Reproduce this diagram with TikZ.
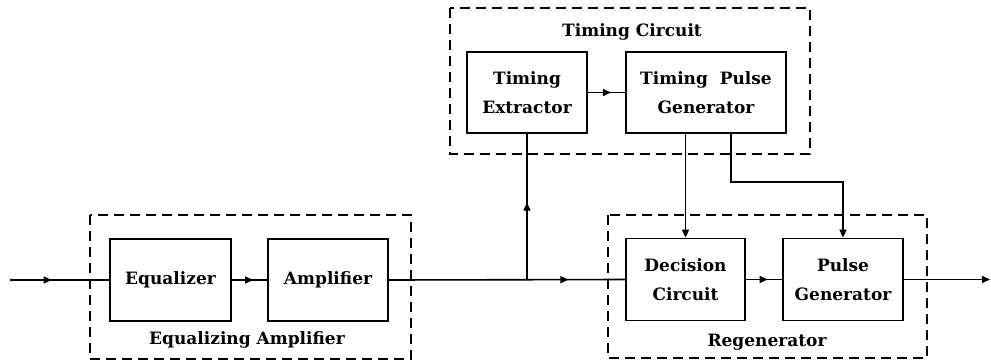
\documentclass[tikz,border=0pt]{standalone}
\usepackage{fontspec}
\setmainfont{DejaVu Serif}
\usetikzlibrary{arrows.meta,decorations.markings}
\begin{document}
\begin{tikzpicture}[x=1pt,y=-1pt,
  every node/.style={font=\fontsize{17}{29}\selectfont\bfseries},
  blk/.style={draw,line width=1.8pt,rectangle,minimum height=82pt,align=center,inner sep=0pt},
  grp/.style={draw,line width=1.6pt,dash pattern=on 10pt off 6pt},
  conn/.style={line width=1.6pt},
  tip/.style={-{Triangle[length=8pt,width=7pt]}},
  midarr/.style={postaction={decorate},decoration={markings,
     mark=at position #1 with {\arrow{Triangle[length=8pt,width=7pt]}}}}]
\useasboundingbox (0,0) rectangle (991,362);
% groups
\draw[grp] (90,215) rectangle (411,359);
\draw[grp] (608,215) rectangle (927,358);
\draw[grp] (450,8) rectangle (810,154);
\node (lea) at (247,340) {Equalizing Amplifier};
\node (lre) at (767,342) {Regenerator};
\node (ltc) at (632,32) {Timing Circuit};
% blocks
\node[blk,minimum width=121pt] (eq) at (170.5,280) {Equalizer};
\node[blk,minimum width=120pt] (amp) at (328,280) {Amplifier};
\node[blk,minimum width=119pt] (dec) at (685.5,279.5) {Decision\\Circuit};
\node[blk,minimum width=120pt] (pg) at (843,279.5) {Pulse\\Generator};
\node[blk,minimum width=120pt,minimum height=81pt] (te) at (527,92.5) {Timing\\Extractor};
\node[blk,minimum width=160pt,minimum height=81pt] (tpg) at (706,92.5) {Timing~~Pulse\\Generator};
% connector endpoints
\coordinate (in) at (10,280);
\coordinate (out) at (990,279.5);
\coordinate (j) at (te.south |- amp.east);
\coordinate (k) at (731,182);
% connectors
\draw[conn,midarr=0.42] (in) -- (eq.west);
\draw[conn,midarr=0.6] (eq.east) -- (amp.west);
\draw[conn,midarr=0.76] (amp.east) -- (dec.west);
\draw[conn,midarr=0.53] (j) -- (te.south);
\draw[conn,midarr=0.62] (te.east) -- (tpg.west);
\draw[conn,midarr=0.6] (dec.east) -- (pg.west);
\draw[conn,tip] (pg.east) -- (out);
\draw[conn,tip] (dec.north |- tpg.south) -- (dec.north);
\draw[conn,tip] (tpg.south -| k) -- (k) -| (pg.north);
\end{tikzpicture}
\end{document}
